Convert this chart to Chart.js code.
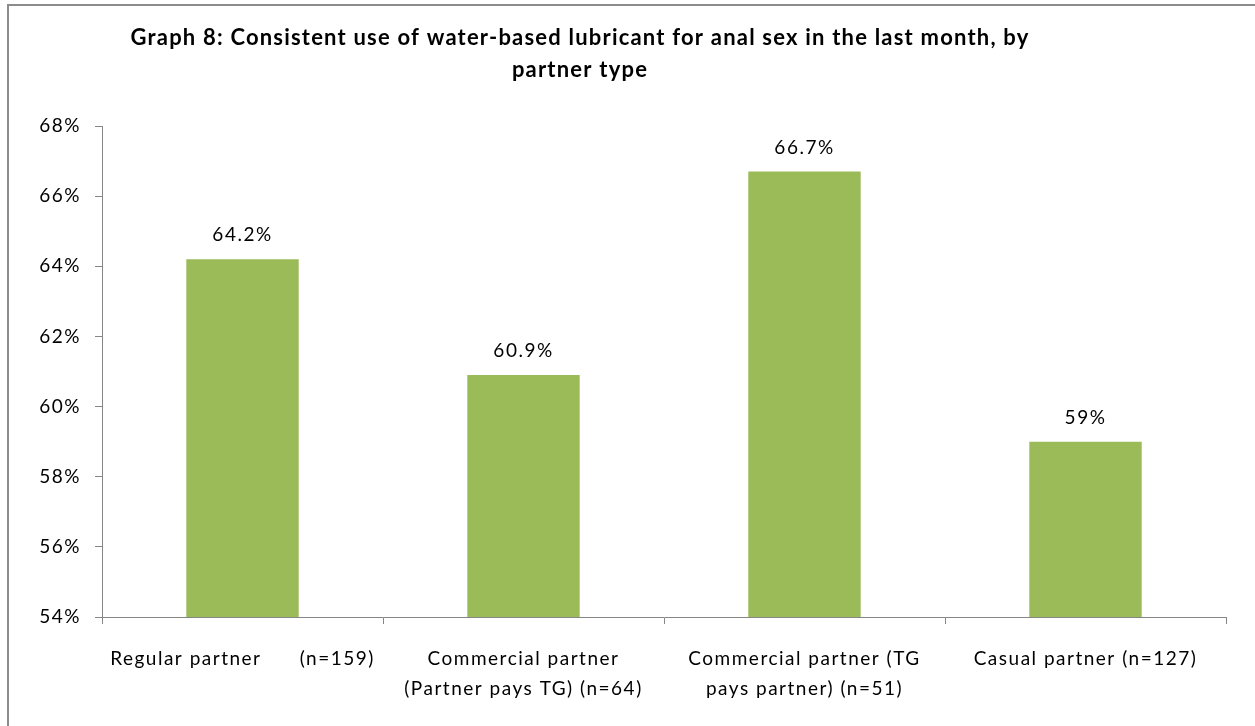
<!DOCTYPE html>
<html>
<head>
<meta charset="utf-8">
<script src="https://cdn.jsdelivr.net/npm/chart.js@4.4.1/dist/chart.umd.min.js"></script>
<style>
html,body{margin:0;padding:0;background:#fff;}
#wrap{width:1255px;height:726px;position:relative;}
</style>
</head>
<body>
<div id="wrap"><canvas id="c" width="1255" height="726"></canvas></div>
<script>
const titleLines = ["Graph 8: Consistent use of water-based lubricant for anal sex in the last month, by", "partner type"];
const categories = [
  ["Regular partner      (n=159)"],
  ["Commercial partner", "(Partner pays TG) (n=64)"],
  ["Commercial partner (TG", "pays partner) (n=51)"],
  ["Casual partner (n=127)"]
];
const values = [64.2, 60.9, 66.7, 59];
const valueLabels = ["64.2%", "60.9%", "66.7%", "59%"];
const yMin = 54, yMax = 68, yStep = 2;

const FONT = "Lato, 'Open Sans', sans-serif";

const framePlugin = {
  id: 'frame',
  beforeInit(chart) { chart.ctx.letterSpacing = '1.5px'; },
  beforeDraw(chart) {
    const ctx = chart.ctx;
    ctx.letterSpacing = '1.5px';
    ctx.save();
    ctx.fillStyle = '#fff';
    ctx.fillRect(0, 0, chart.width, chart.height);
    ctx.strokeStyle = '#8c8c8c';
    ctx.lineWidth = 2;
    ctx.strokeRect(8, 5, chart.width + 20, chart.height + 20);
    ctx.fillStyle = '#000';
    ctx.letterSpacing = '1.2px';
    ctx.font = "bold 22px " + FONT;
    ctx.textAlign = 'center';
    ctx.textBaseline = 'middle';
    ctx.fillText(titleLines[0], 580, 38);
    ctx.fillText(titleLines[1], 580, 70);
    ctx.restore();
  },
  afterDatasetsDraw(chart) {
    const ctx = chart.ctx;
    const meta = chart.getDatasetMeta(0);
    ctx.save();
    ctx.fillStyle = '#000';
    ctx.letterSpacing = '1.5px';
    ctx.font = "19px " + FONT;
    ctx.textAlign = 'center';
    ctx.textBaseline = 'middle';
    meta.data.forEach((bar, i) => {
      ctx.fillText(valueLabels[i], bar.x, bar.y - 24);
    });
    ctx.restore();
  }
};

new Chart(document.getElementById('c'), {
  type: 'bar',
  data: {
    labels: categories,
    datasets: [{
      data: values,
      backgroundColor: '#9BBB59',
      borderWidth: 0,
      categoryPercentage: 1,
      barPercentage: 0.4
    }]
  },
  options: {
    responsive: false,
    animation: false,
    devicePixelRatio: 1,
    layout: { padding: { top: 126, right: 29, left: 0, bottom: 0 } },
    plugins: { legend: { display: false }, title: { display: false }, tooltip: { enabled: false } },
    scales: {
      x: {
        grid: { offset: true, drawOnChartArea: false, drawTicks: true, tickLength: 7, color: '#868686' },
        border: { color: '#868686', width: 1 },
        ticks: { color: '#000', font: { family: FONT, size: 19, lineHeight: 1.58 }, padding: 20, maxRotation: 0, autoSkip: false },
        afterFit(scale) { scale.height = 109; }
      },
      y: {
        min: yMin, max: yMax,
        grid: { drawOnChartArea: false, drawTicks: true, tickLength: 7, color: '#868686' },
        border: { color: '#868686', width: 1 },
        ticks: { stepSize: yStep, color: '#000', font: { family: FONT, size: 19 }, padding: 14,
          callback: v => v + '%' },
        afterFit(scale) { scale.width = 102; }
      }
    }
  },
  plugins: [framePlugin]
});
</script>
</body>
</html>
